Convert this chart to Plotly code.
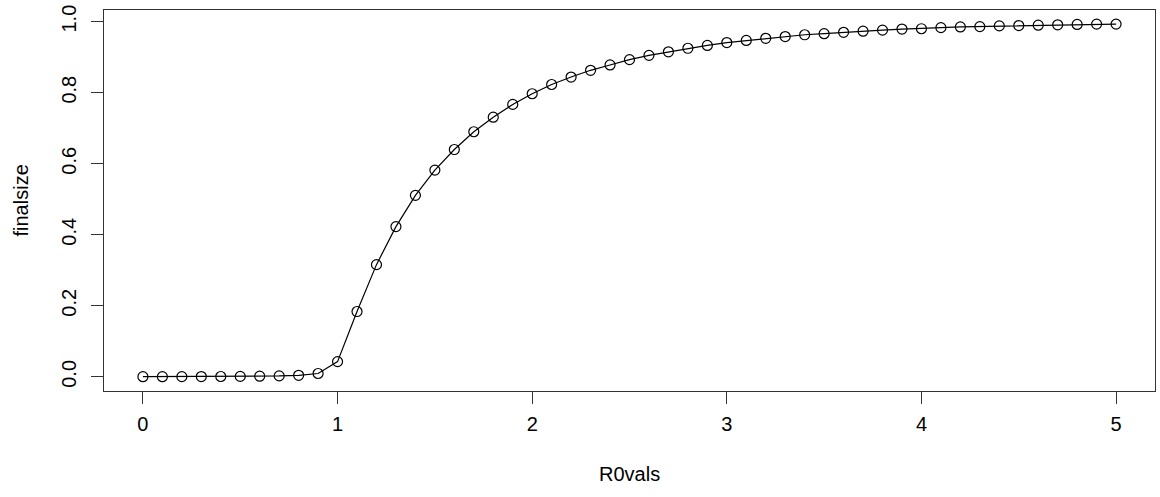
import plotly.graph_objects as go

R0vals = [round(i * 0.1, 1) for i in range(51)]
finalsize = [0.0005, 0.0006, 0.0007, 0.0009, 0.0011, 0.0014, 0.0019, 0.0028, 0.0045, 0.0095,
             0.043, 0.184, 0.316, 0.423, 0.511, 0.582, 0.640, 0.690, 0.731, 0.767,
             0.797, 0.823, 0.844, 0.863, 0.878, 0.893, 0.905, 0.915, 0.925, 0.933,
             0.941, 0.947, 0.953, 0.958, 0.963, 0.966, 0.970, 0.973, 0.976, 0.979,
             0.980, 0.983, 0.985, 0.986, 0.988, 0.989, 0.990, 0.991, 0.992, 0.993,
             0.993]
x_ticks = [0, 1, 2, 3, 4, 5]
y_ticks = [0.0, 0.2, 0.4, 0.6, 0.8, 1.0]
y_ticklabels = ["0.0", "0.2", "0.4", "0.6", "0.8", "1.0"]

font = dict(family="Liberation Sans, Arial, sans-serif", size=20, color="black")

fig = go.Figure()
fig.add_trace(go.Scatter(
    x=R0vals, y=finalsize, mode="lines+markers",
    line=dict(color="black", width=1.2),
    marker=dict(symbol="circle-open", size=10, color="black", line=dict(width=1.2)),
    showlegend=False, hoverinfo="x+y",
))

ymax = max(finalsize)
ymin = 0.0
fig.update_layout(
    width=1160, height=497,
    margin=dict(l=104, r=5, t=10, b=106, autoexpand=False),
    paper_bgcolor="white", plot_bgcolor="white",
    font=font,
    xaxis=dict(
        range=[-0.2, 5.2], tickvals=x_ticks, ticktext=[str(v) for v in x_ticks],
        ticks="outside", ticklen=12, tickwidth=1, tickcolor="#333",
        showline=True, linecolor="#333", linewidth=1, mirror=True,
        showgrid=False, zeroline=False, automargin=False,
        ticklabelstandoff=3, ticklabeloverflow="allow",
        tickfont=font,
    ),
    yaxis=dict(
        range=[ymin - 0.04 * (ymax - ymin), ymax + 0.04 * (ymax - ymin)],
        tickvals=y_ticks, ticktext=y_ticklabels, tickangle=-90,
        ticks="outside", ticklen=12, tickwidth=1, tickcolor="#333",
        showline=True, linecolor="#333", linewidth=1, mirror=True,
        showgrid=False, zeroline=False, automargin=False,
        ticklabelstandoff=7, ticklabeloverflow="allow",
        tickfont=font,
    ),
    annotations=[
        dict(text="R0vals", xref="paper", yref="paper", x=0.5, y=0,
             xanchor="center", yanchor="middle", yshift=-83, showarrow=False, font=font),
        dict(text="finalsize", xref="paper", yref="paper", x=0, y=0.5,
             xanchor="center", yanchor="middle", xshift=-84, textangle=-90,
             showarrow=False, font=font),
    ],
)
fig.write_html(
    "out.html",
    config={"displayModeBar": False},
    post_script="document.body.style.margin='0';document.body.style.overflow='hidden';",
)
